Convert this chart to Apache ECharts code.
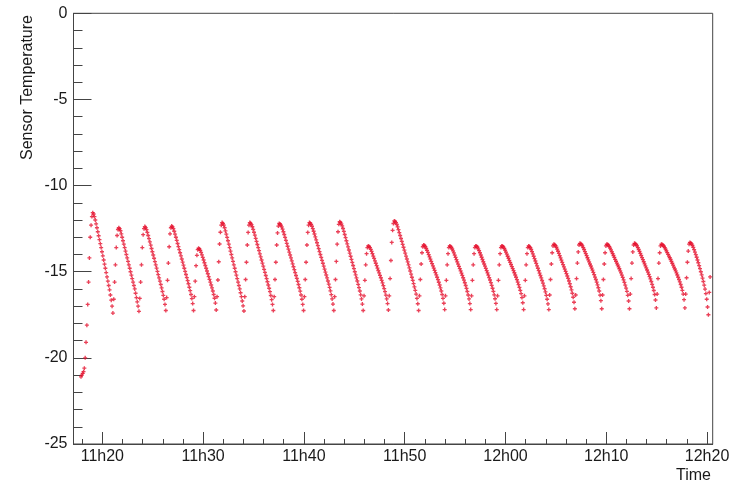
<!DOCTYPE html>
<html>
<head>
<meta charset="utf-8">
<script src="https://cdn.jsdelivr.net/npm/echarts@6/dist/echarts.min.js"></script>
<style>
html,body{margin:0;padding:0;background:#fff;}
#chart{width:738px;height:484px;}
</style>
</head>
<body>
<div id="chart"></div>
<script>
// Sensor temperature, one reading every SAMPLE_SECONDS starting at 11h17m53s
const START_MINUTE = 17 + 53 / 60;   // minutes after 11h00
const SAMPLE_SECONDS = 5;
const temps = [
  -21.1, -21.0, -20.9, -20.8, -20.6, -20.0, -19.1, -18.1, -16.9, -15.6, -14.2, -13.0, -12.3, -11.8,
  -11.57, -11.65, -11.8, -12.0, -12.22, -12.45, -12.68, -12.91, -13.14, -13.37, -13.6, -13.84, -14.08, -14.32, -14.56, -14.8, -15.05, -15.3, -15.55, -15.8, -16.05, -16.35, -16.65, -17.0, -17.4,
  -16.6, -15.6, -14.6, -13.6, -12.9, -12.55,
  -12.45, -12.5, -12.62, -12.8, -13.0, -13.2, -13.4, -13.6, -13.8, -14.0, -14.2, -14.4, -14.6, -14.8, -15.0, -15.2, -15.4, -15.6, -15.8, -16.0, -16.25, -16.5, -16.75, -17.0, -17.3,
  -16.55, -15.6, -14.6, -13.6, -12.85, -12.5,
  -12.38, -12.44, -12.56, -12.72, -12.9, -13.08, -13.27, -13.46, -13.65, -13.84, -14.03, -14.22, -14.41, -14.6, -14.79, -14.98, -15.17, -15.36, -15.55, -15.74, -15.94, -16.15, -16.37, -16.6, -16.9, -17.25,
  -16.5, -15.5, -14.5, -13.55, -12.8, -12.45,
  -12.35, -12.4, -12.5, -12.65, -12.82, -13.0, -13.18, -13.36, -13.54, -13.72, -13.9, -14.08, -14.26, -14.44, -14.62, -14.8, -14.98, -15.16, -15.34, -15.52, -15.7, -15.9, -16.1, -16.32, -16.56, -16.85, -17.25,
  -16.45, -15.55, -14.65, -14.05, -13.72,
  -13.64, -13.68, -13.76, -13.88, -14.02, -14.17, -14.32, -14.48, -14.64, -14.8, -14.96, -15.12, -15.28, -15.44, -15.6, -15.77, -15.94, -16.12, -16.32, -16.54, -16.82, -17.22,
  -16.45, -15.48, -14.42, -13.39, -12.71, -12.3,
  -12.15, -12.2, -12.3, -12.45, -12.63, -12.82, -13.01, -13.2, -13.4, -13.6, -13.8, -14.0, -14.2, -14.4, -14.6, -14.8, -15.0, -15.2, -15.4, -15.6, -15.8, -16.0, -16.22, -16.45, -16.7, -16.98, -17.28,
  -16.45, -15.45, -14.45, -13.45, -12.72, -12.3,
  -12.15, -12.19, -12.27, -12.39, -12.54, -12.71, -12.88, -13.06, -13.24, -13.42, -13.6, -13.78, -13.96, -14.14, -14.32, -14.5, -14.68, -14.86, -15.04, -15.22, -15.4, -15.58, -15.77, -15.96, -16.16, -16.38, -16.62, -16.9, -17.25,
  -16.45, -15.45, -14.45, -13.45, -12.75, -12.35,
  -12.2, -12.23, -12.3, -12.4, -12.53, -12.68, -12.84, -13.01, -13.18, -13.35, -13.52, -13.69, -13.86, -14.03, -14.2, -14.37, -14.54, -14.71, -14.88, -15.05, -15.22, -15.39, -15.56, -15.74, -15.93, -16.13, -16.35, -16.6, -16.9, -17.25,
  -16.45, -15.45, -14.45, -13.45, -12.72, -12.3,
  -12.15, -12.18, -12.25, -12.36, -12.5, -12.65, -12.81, -12.98, -13.15, -13.32, -13.49, -13.66, -13.83, -14.0, -14.17, -14.34, -14.51, -14.68, -14.85, -15.02, -15.19, -15.36, -15.54, -15.72, -15.91, -16.11, -16.33, -16.58, -16.88, -17.25,
  -16.45, -15.45, -14.4, -13.4, -12.68, -12.25,
  -12.1, -12.14, -12.22, -12.34, -12.49, -12.66, -12.84, -13.02, -13.2, -13.38, -13.56, -13.74, -13.92, -14.1, -14.28, -14.46, -14.64, -14.82, -15.0, -15.18, -15.36, -15.54, -15.73, -15.92, -16.12, -16.34, -16.58, -16.88, -17.25,
  -16.4, -15.5, -14.6, -13.95, -13.6,
  -13.5, -13.53, -13.6, -13.7, -13.82, -13.95, -14.09, -14.23, -14.37, -14.51, -14.65, -14.79, -14.93, -15.07, -15.21, -15.35, -15.5, -15.65, -15.81, -15.98, -16.16, -16.36, -16.58, -16.85, -17.22,
  -16.4, -15.4, -14.35, -13.3, -12.6, -12.2,
  -12.05, -12.08, -12.15, -12.26, -12.4, -12.56, -12.73, -12.9, -13.07, -13.24, -13.41, -13.58, -13.75, -13.92, -14.09, -14.26, -14.43, -14.6, -14.78, -14.96, -15.14, -15.32, -15.5, -15.69, -15.88, -16.08, -16.3, -16.55, -16.86, -17.25,
  -16.4, -15.45, -14.55, -13.9, -13.55,
  -13.45, -13.48, -13.55, -13.65, -13.76, -13.88, -14.01, -14.14, -14.27, -14.4, -14.53, -14.66, -14.79, -14.92, -15.05, -15.18, -15.32, -15.46, -15.61, -15.77, -15.94, -16.12, -16.32, -16.55, -16.83, -17.2,
  -16.4, -15.5, -14.6, -13.95, -13.6,
  -13.5, -13.53, -13.59, -13.68, -13.79, -13.91, -14.04, -14.17, -14.3, -14.43, -14.56, -14.69, -14.82, -14.95, -15.08, -15.21, -15.35, -15.49, -15.64, -15.8, -15.97, -16.15, -16.35, -16.58, -16.85, -17.2,
  -16.4, -15.5, -14.6, -13.95, -13.6,
  -13.5, -13.52, -13.58, -13.67, -13.78, -13.9, -14.03, -14.16, -14.29, -14.42, -14.55, -14.68, -14.81, -14.94, -15.07, -15.2, -15.34, -15.48, -15.63, -15.79, -15.96, -16.14, -16.34, -16.57, -16.84, -17.2,
  -16.4, -15.5, -14.6, -13.95, -13.6,
  -13.5, -13.52, -13.57, -13.65, -13.75, -13.86, -13.98, -14.1, -14.22, -14.34, -14.46, -14.58, -14.7, -14.82, -14.94, -15.06, -15.19, -15.32, -15.46, -15.6, -15.75, -15.91, -16.08, -16.27, -16.5, -16.8, -17.2,
  -16.4, -15.5, -14.6, -13.95, -13.6,
  -13.5, -13.54, -13.61, -13.71, -13.83, -13.96, -14.1, -14.24, -14.38, -14.52, -14.66, -14.8, -14.94, -15.08, -15.22, -15.36, -15.51, -15.66, -15.82, -15.99, -16.17, -16.37, -16.6, -16.87, -17.2,
  -16.35, -15.45, -14.55, -13.9, -13.5,
  -13.4, -13.43, -13.49, -13.58, -13.69, -13.81, -13.94, -14.07, -14.2, -14.33, -14.46, -14.59, -14.72, -14.85, -14.98, -15.11, -15.25, -15.39, -15.54, -15.7, -15.87, -16.05, -16.25, -16.48, -16.77, -17.15,
  -16.35, -15.4, -14.5, -13.85, -13.45,
  -13.35, -13.37, -13.42, -13.5, -13.6, -13.71, -13.83, -13.95, -14.07, -14.19, -14.31, -14.43, -14.55, -14.67, -14.79, -14.91, -15.04, -15.17, -15.31, -15.45, -15.6, -15.76, -15.93, -16.12, -16.36, -16.68, -17.15,
  -16.35, -15.45, -14.55, -13.9, -13.5,
  -13.4, -13.42, -13.47, -13.54, -13.63, -13.73, -13.84, -13.95, -14.06, -14.17, -14.28, -14.39, -14.5, -14.61, -14.72, -14.83, -14.95, -15.07, -15.2, -15.33, -15.47, -15.62, -15.78, -15.95, -16.14, -16.37, -16.7, -17.15,
  -16.3, -15.4, -14.5, -13.85, -13.45,
  -13.35, -13.37, -13.42, -13.5, -13.6, -13.71, -13.82, -13.94, -14.06, -14.18, -14.3, -14.42, -14.54, -14.66, -14.78, -14.9, -15.02, -15.15, -15.28, -15.42, -15.57, -15.73, -15.9, -16.09, -16.32, -16.64, -17.1,
  -16.3, -15.4, -14.5, -13.9, -13.5,
  -13.4, -13.42, -13.46, -13.52, -13.6, -13.69, -13.79, -13.89, -13.99, -14.09, -14.19, -14.29, -14.4, -14.51, -14.62, -14.73, -14.84, -14.95, -15.07, -15.19, -15.32, -15.45, -15.59, -15.74, -15.9, -16.08, -16.3, -16.62, -17.1,
  -16.3, -15.35, -14.45, -13.8, -13.4,
  -13.3, -13.33, -13.39, -13.48, -13.59, -13.72, -13.86, -14.01, -14.16, -14.32, -14.48, -14.65, -14.82, -15.0, -15.18, -15.37, -15.57, -15.78, -16.01, -16.27, -16.6, -17.05, -17.5,
  -16.2, -15.3
];

// Axis ticks (x in minutes after 11h00)
const X_MIN = 17.14, X_MAX = 80.56;
const xMajorTicks = [20, 30, 40, 50, 60, 70, 80];
const xTickLabels = ['11h20', '11h30', '11h40', '11h50', '12h00', '12h10', '12h20'];
const xMinorTicks = [18, 22, 24, 26, 28, 32, 34, 36, 38, 42, 44, 46, 48, 52, 54, 56, 58,
                     62, 64, 66, 68, 72, 74, 76, 78];
const Y_MIN = -25, Y_MAX = 0, Y_STEP = 5;
const yTitle = 'Sensor Temperature';
const xTitle = 'Time';

const points = temps.map((t, i) => [START_MINUTE + i * SAMPLE_SECONDS / 60, t]);

const AXIS_COLOR = '#444';
const TEXT_COLOR = '#1a1a1a';
const FONT = '"Liberation Sans", Arial, Helvetica, sans-serif';

const chart = echarts.init(document.getElementById('chart'));
chart.setOption({
  animation: false,
  backgroundColor: '#fff',
  grid: {
    left: 73.5, right: 25.3, top: 13.3, bottom: 40,
    show: true, borderColor: AXIS_COLOR, borderWidth: 1, backgroundColor: 'transparent'
  },
  xAxis: [{
    type: 'value', min: X_MIN, max: X_MAX, position: 'bottom',
    axisLine: { show: true, onZero: false, lineStyle: { color: AXIS_COLOR, width: 1 } },
    axisTick: { show: true, inside: true, length: 12, customValues: xMajorTicks,
                lineStyle: { color: AXIS_COLOR, width: 1 } },
    axisLabel: { show: true, customValues: xMajorTicks, margin: 5, fontSize: 16,
                 fontFamily: FONT, color: TEXT_COLOR,
                 formatter: v => xTickLabels[xMajorTicks.indexOf(Math.round(v))] || '' },
    splitLine: { show: false }
  }, {
    type: 'value', min: X_MIN, max: X_MAX, position: 'bottom',
    axisLine: { show: false, onZero: false },
    axisTick: { show: true, inside: true, length: 5, customValues: xMinorTicks,
                lineStyle: { color: AXIS_COLOR, width: 1 } },
    axisLabel: { show: false },
    splitLine: { show: false }
  }],
  yAxis: {
    type: 'value', min: Y_MIN, max: Y_MAX, interval: Y_STEP,
    axisLine: { show: true, onZero: false, lineStyle: { color: AXIS_COLOR, width: 1 } },
    axisTick: { show: true, inside: true, length: 18, lineStyle: { color: AXIS_COLOR, width: 1 } },
    minorTick: { show: true, splitNumber: 5, length: 9, lineStyle: { color: AXIS_COLOR, width: 1 } },
    axisLabel: { margin: 6, fontSize: 16, fontFamily: FONT, color: TEXT_COLOR },
    splitLine: { show: false },
    minorSplitLine: { show: false }
  },
  graphic: [{
    type: 'text', x: 28, y: 15, rotation: Math.PI / 2,
    style: { text: yTitle, fontSize: 16, fontFamily: FONT, fill: TEXT_COLOR,
             align: 'right', verticalAlign: 'middle' }
  }, {
    type: 'text', x: 711, y: 476,
    style: { text: xTitle, fontSize: 16, fontFamily: FONT, fill: TEXT_COLOR,
             align: 'right', verticalAlign: 'middle' }
  }],
  series: [{
    type: 'scatter',
    xAxisIndex: 0,
    data: points,
    symbol: 'path://M1,0H2V1H3V2H2V3H1V2H0V1H1Z',
    symbolSize: 4,
    itemStyle: { color: '#e5112e' },
    emphasis: { disabled: true }
  }]
});
</script>
</body>
</html>
